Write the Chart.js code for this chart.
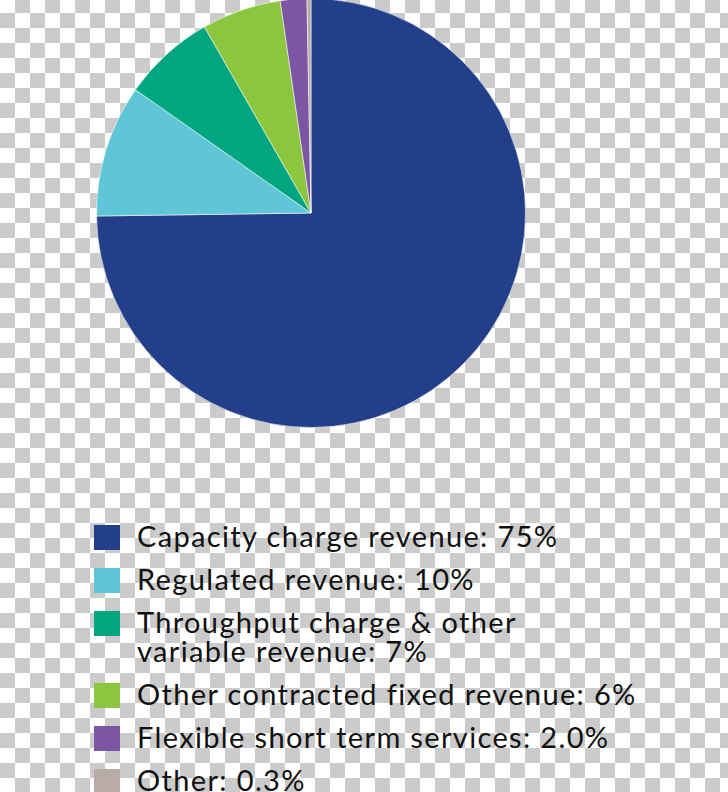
<!DOCTYPE html>
<html>
<head>
<meta charset="utf-8">
<script src="https://cdn.jsdelivr.net/npm/chart.js@4"></script>
<style>
  html, body {
    margin: 0;
    padding: 0;
    width: 728px;
    height: 792px;
    overflow: hidden;
  }
  body {
    position: relative;
    background: repeating-conic-gradient(#cbcbcb 0 25%, #ffffff 0 50%) 0 -2px / 30px 30px;
    font-family: 'Lato', 'DejaVu Sans', sans-serif;
  }
  .pie-wrap {
    position: absolute;
    left: 96px;
    top: -2px;
    width: 430px;
    height: 430px;
  }
  .legend {
    position: absolute;
    left: 94px;
    top: 521px;
    margin: 0;
    padding: 0;
    list-style: none;
  }
  .legend li {
    position: relative;
    padding-left: 43px;
    margin-bottom: 14px;
    font-size: 29px;
    line-height: 29px;
    letter-spacing: 1.35px;
    color: #111;
    white-space: pre-line;
  }
  .legend .swatch {
    position: absolute;
    left: 0;
    top: 4px;
    width: 26px;
    height: 25px;
  }
</style>
</head>
<body>
<div class="pie-wrap"><canvas id="revenuePie"></canvas></div>
<ul class="legend" id="revenueLegend"></ul>
<script>
const categories = [
  'Capacity charge revenue',
  'Regulated revenue',
  'Throughput charge & other\nvariable revenue',
  'Other contracted fixed revenue',
  'Flexible short term services',
  'Other'
];
const shares = [75, 10, 7, 6, 2.0, 0.3];
const shareLabels = ['75%', '10%', '7%', '6%', '2.0%', '0.3%'];
const sliceColors = ['#233f8a', '#5ec6d6', '#00a67f', '#8cc63f', '#7c56a3', '#b9aca6'];

// legend as plain html so the wrapped item lines up like the source
const legendEl = document.getElementById('revenueLegend');
categories.forEach((name, i) => {
  const li = document.createElement('li');
  const sw = document.createElement('span');
  sw.className = 'swatch';
  sw.style.background = sliceColors[i];
  li.appendChild(sw);
  li.appendChild(document.createTextNode(`${name}: ${shareLabels[i]}`));
  legendEl.appendChild(li);
});

new Chart(document.getElementById('revenuePie'), {
  type: 'pie',
  data: {
    labels: categories.map(c => c.replace('\n', ' ')),
    datasets: [{
      data: shares,
      backgroundColor: sliceColors,
      borderColor: 'rgba(255,255,255,0.55)',
      borderWidth: 1,
    }],
  },
  options: {
    responsive: true,
    maintainAspectRatio: false,
    animation: false,
    layout: { padding: 0 },
    plugins: {
      legend: { display: false },
      tooltip: { enabled: false },
    },
  },
});
</script>
</body>
</html>
